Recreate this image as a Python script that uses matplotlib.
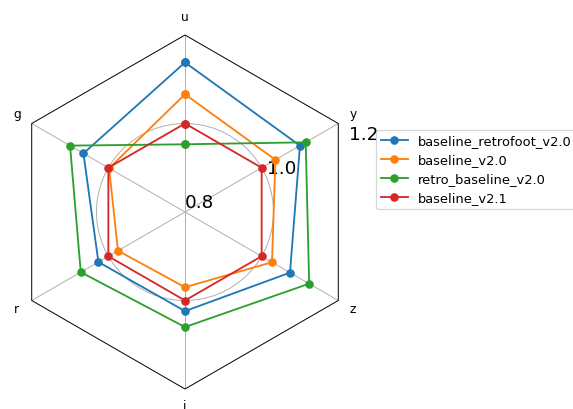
import numpy as np
import matplotlib
matplotlib.use("Agg")
import matplotlib.pyplot as plt
from matplotlib.patches import RegularPolygon
from matplotlib.path import Path
from matplotlib.projections import register_projection
from matplotlib.projections.polar import PolarAxes
from matplotlib.spines import Spine
from matplotlib.transforms import Affine2D

categories = ["u", "g", "r", "i", "z", "y"]
baseline_retrofoot_v2_0 = [1.138, 1.065, 1.026, 1.024, 1.074, 1.100]
baseline_v2_0 = [1.066, 0.998, 0.975, 0.970, 1.027, 1.036]
retro_baseline_v2_0 = [0.953, 1.100, 1.072, 1.060, 1.124, 1.115]
baseline_v2_1 = [1.0, 1.0, 1.0, 1.0, 1.0, 1.0]
series_names = ["baseline_retrofoot_v2.0", "baseline_v2.0",
                "retro_baseline_v2.0", "baseline_v2.1"]
series_values = [baseline_retrofoot_v2_0, baseline_v2_0,
                 retro_baseline_v2_0, baseline_v2_1]
radial_ticks = [0.8, 1.0, 1.2]
radial_labels = ["0.8", "1.0", "1.2"]


def radar_factory(num_vars):
    theta = np.linspace(0, 2 * np.pi, num_vars, endpoint=False)

    class RadarAxes(PolarAxes):
        name = "radar_hex"
        RESOLUTION = 1

        def __init__(self, *args, **kwargs):
            super().__init__(*args, **kwargs)
            self.set_theta_zero_location("N")

        def fill(self, *args, closed=True, **kwargs):
            return super().fill(closed=closed, *args, **kwargs)

        def plot(self, *args, **kwargs):
            lines = super().plot(*args, **kwargs)
            for line in lines:
                self._close_line(line)
            return lines

        def _close_line(self, line):
            x, y = line.get_data()
            if x[0] != x[-1]:
                x = np.append(x, x[0])
                y = np.append(y, y[0])
                line.set_data(x, y)

        def set_varlabels(self, labels, **kw):
            self.set_thetagrids(np.degrees(theta), labels, **kw)

        def _gen_axes_patch(self):
            return RegularPolygon((0.5, 0.5), num_vars, radius=.5,
                                  edgecolor="k")

        def _gen_axes_spines(self):
            spine = Spine(axes=self, spine_type="circle",
                          path=Path.unit_regular_polygon(num_vars))
            spine.set_transform(Affine2D().scale(.5).translate(.5, .5)
                                + self.transAxes)
            return {"polar": spine}

    register_projection(RadarAxes)
    return theta


theta = radar_factory(len(categories))

DPI = 88
fig = plt.figure(figsize=(573 / DPI, 409 / DPI), dpi=DPI)
ax = fig.add_axes([8 / 573, 20 / 409, 354 / 573, 354 / 409],
                  projection="radar_hex")

for name, vals in zip(series_names, series_values):
    ax.plot(theta, vals, marker="o", label=name)

ax.set_ylim(0.8, 1.2)
ax.set_rgrids(radial_ticks, radial_labels, fontsize=15)
ax.set_rlabel_position(-67.5)
ax.set_varlabels(categories, fontsize=10)

fig.legend(loc="upper left", bbox_to_anchor=(376 / 573, 1 - 130 / 409),
           borderaxespad=0, fontsize=10.6, labelspacing=0.47,
           handlelength=2.1, borderpad=0.35)

fig.savefig("out.png", dpi=DPI)
